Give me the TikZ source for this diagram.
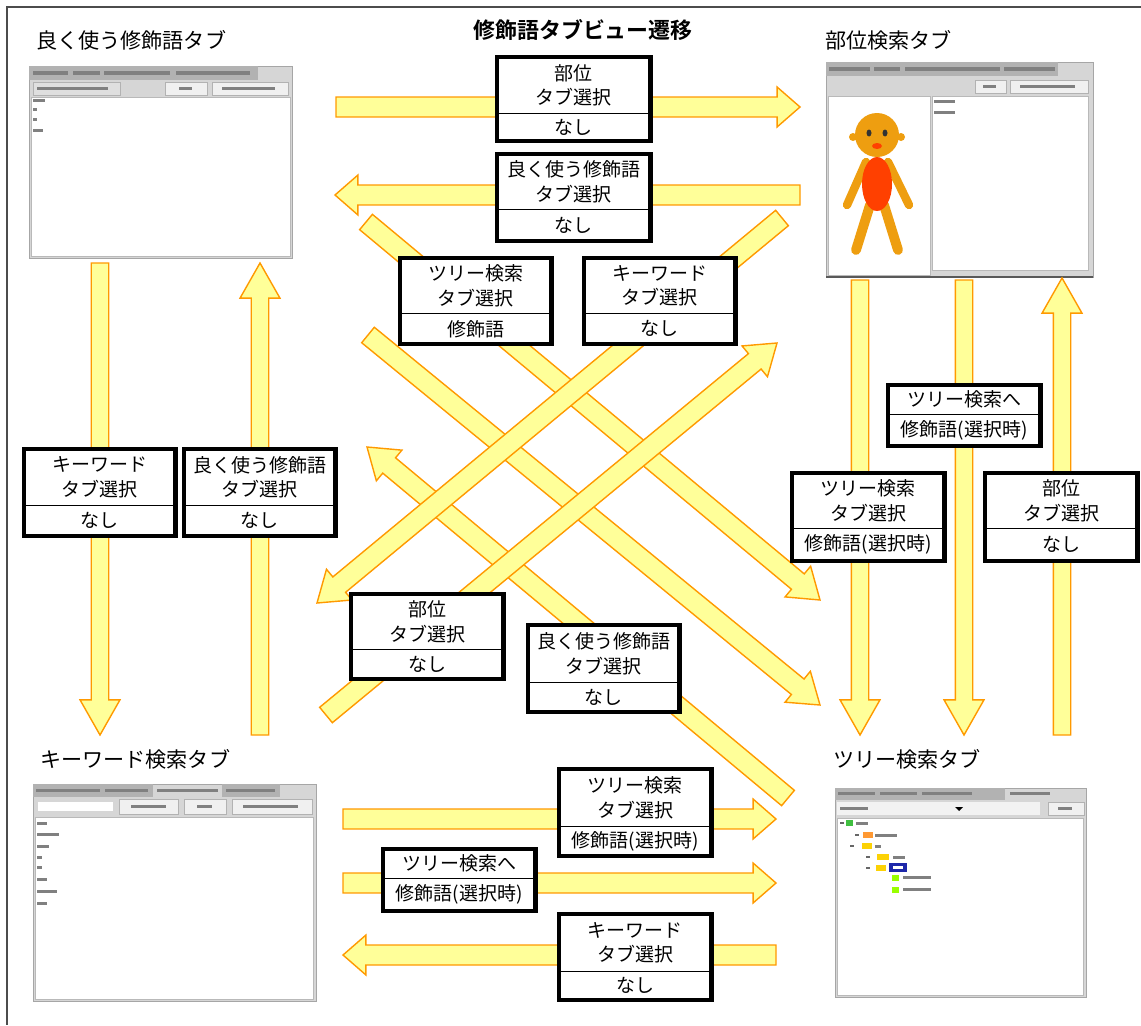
\documentclass[tikz,border=0pt]{standalone}
\usepackage{fontspec}
\newfontfamily\jp[BoldFont={Noto Sans CJK JP Bold}]{Noto Sans CJK JP}
\usetikzlibrary{calc,positioning}

\definecolor{arrowfill}{RGB}{255,255,153}
\definecolor{arrowedge}{RGB}{255,153,0}
\definecolor{wingray}{RGB}{214,214,214}
\definecolor{tabgray}{RGB}{178,178,178}
\definecolor{skin}{RGB}{238,158,16}
\definecolor{suit}{RGB}{255,64,0}
\definecolor{selblue}{RGB}{30,40,170}

\def\px{0.025cm}

\tikzset{
  fatarrow/.style={fill=arrowfill, draw=arrowedge, line width=1pt, line join=miter},
  boxup/.style={fill=white, inner sep=0pt, align=center, font=\jp\fontsize{13.5}{17.7}\selectfont},
  boxlow/.style={boxup},
  boxframe/.style={draw=black, line width=3.2pt},
  boxrule/.style={line width=1pt},
  tabtitle/.style={anchor=west, inner sep=0pt, font=\jp\fontsize{15}{18}\selectfont},
  window/.style={fill=wingray, draw=gray!70, line width=0.6pt},
  pane/.style={fill=white, draw=gray!55, line width=0.4pt},
  button/.style={fill=gray!12, draw=gray!60, line width=0.4pt},
  smudge/.style={fill=black!50},
}

% block arrow: #1 half shaft, #2 head length, #3 tail, #4 tip
\newcommand{\fatarrow}[4]{%
  \coordinate (hb) at ($(#4)!#2!(#3)$);
  \draw[fatarrow] ($(#3)!#1!90:(#4)$) -- ($(hb)!#1!90:(#4)$) -- ($(hb)!14.2pt!90:(#4)$) -- (#4)
    -- ($(hb)!14.2pt!-90:(#4)$) -- ($(hb)!#1!-90:(#4)$) -- ($(#3)!#1!-90:(#4)$) -- cycle;
}

% two part label: #1 name, #2 corner, #3 width, #4/#5 heights, #6 upper, #7 lower
\newcommand{\tabbox}[7]{%
  \node[boxup, minimum width=#3*\px, minimum height=#4*\px, anchor=north west] (#1) at (#2) {#6};
  \node[boxlow, minimum width=#3*\px, minimum height=#5*\px, below=0pt of #1] (#1-b) {#7};
  \draw[boxframe] (#1.north west) rectangle (#1-b.south east);
  \draw[boxrule] (#1.south west) -- (#1.south east);
}

\begin{document}
\begin{tikzpicture}[x=\px, y=-\px]
  \useasboundingbox (0,0) rectangle (1141,1025);
  \draw[gray!60!black, line width=1pt] (1141,7) -- (7,7) -- (7,1025);

  \node[font=\jp\bfseries\fontsize{15.6}{18}\selectfont] (title) at (583,30) {修飾語タブビュー遷移};

  % --- tab titles
  \node[tabtitle] (yoku) at (36,40) {良く使う修飾語タブ};
  \node[tabtitle] (bui) at (825,40) {部位検索タブ};
  \node[tabtitle] (kw) at (40,759) {キーワード検索タブ};
  \node[tabtitle] (tree) at (833,759) {ツリー検索タブ};

  % --- window: frequently used
  \draw[window] (29,66) rectangle (292,258);
  \fill[tabgray] (29,66) rectangle (258,80);
  \foreach \a/\b in {33/68, 73/100, 104/170, 176/250}
    \fill[smudge] (\a,71) rectangle (\b,75);
  \draw[button, fill=gray!25] (33,82) rectangle (120,95);
  \fill[smudge] (37,87) rectangle (108,90);
  \draw[button] (165,82) rectangle (207,95);
  \fill[smudge] (179,87) rectangle (192,90);
  \draw[button] (212,82) rectangle (288,95);
  \fill[smudge] (222,87) rectangle (275,90);
  \draw[pane] (31,97) rectangle (290,256);
  \foreach \y/\l in {99/12, 108/4, 118/4, 129/10}
    \fill[smudge] (33,\y) rectangle (33+\l,\y+3);

  % --- window: body part
  \draw[window] (826,62) rectangle (1093,277);
  \fill[tabgray] (826,62) rectangle (1058,76);
  \foreach \a/\b in {829/870, 874/900, 905/1000, 1004/1055}
    \fill[smudge] (\a,67) rectangle (\b,71);
  \draw[button] (975,80) rectangle (1006,93);
  \fill[smudge] (983,85) rectangle (996,88);
  \draw[button] (1010,80) rectangle (1088,93);
  \fill[smudge] (1020,85) rectangle (1075,88);
  \draw[pane] (828,96) rectangle (930,275);
  \draw[pane] (932,96) rectangle (1088,270);
  \draw[gray!70!black, line width=1.5pt] (826,277) -- (1093,277);
  \foreach \y in {100,111}
    \fill[smudge] (934,\y) rectangle (955,\y+3);
  % figure
  \begin{scope}[line cap=round]
    \draw[skin, line width=6pt] (866,162) -- (847,205);
    \draw[skin, line width=6pt] (888,162) -- (909,205);
    \draw[skin, line width=7pt] (870,205) -- (856,250);
    \draw[skin, line width=7pt] (884,205) -- (898,250);
  \end{scope}
  \fill[suit] (877,184) ellipse [x radius=15, y radius=27];
  \fill[skin] (853,137) circle (4);
  \fill[skin] (901,137) circle (4);
  \fill[skin] (877,135) circle (22);
  \fill[black!80] (869,133) ellipse [x radius=2.5, y radius=3.5];
  \fill[black!80] (885,133) ellipse [x radius=2.5, y radius=3.5];
  \fill[suit] (877,146) ellipse [x radius=5, y radius=3];

  % --- window: keyword
  \draw[window] (33,784) rectangle (316,1001);
  \fill[tabgray] (33,784) rectangle (153,797);
  \fill[tabgray] (222,784) rectangle (280,797);
  \foreach \a/\b in {36/100, 105/148, 157/218, 226/275}
    \fill[smudge] (\a,789) rectangle (\b,792);
  \fill[white] (38,802) rectangle (113,811);
  \draw[button] (119,799) rectangle (178,814);
  \fill[smudge] (131,805) rectangle (166,808);
  \draw[button] (184,799) rectangle (226,814);
  \fill[smudge] (197,805) rectangle (212,808);
  \draw[button] (232,799) rectangle (312,814);
  \fill[smudge] (243,805) rectangle (298,808);
  \draw[pane] (35,817) rectangle (313,999);
  \foreach \y/\l in {822/10, 833/22, 845/12, 856/5, 866/5, 878/10, 890/20, 902/10}
    \fill[smudge] (37,\y) rectangle (37+\l,\y+3);

  % --- window: tree
  \draw[window] (835,788) rectangle (1086,997);
  \fill[tabgray] (835,788) rectangle (1005,800);
  \foreach \a/\b in {838/875, 880/917, 922/972, 1010/1050}
    \fill[smudge] (\a,792) rectangle (\b,795);
  \fill[gray!10] (837,802) rectangle (1040,815);
  \fill[smudge] (840,807) rectangle (868,810);
  \fill[black] (955,807) -- (963,807) -- (959,811) -- cycle;
  \draw[button] (1048,802) rectangle (1084,815);
  \fill[smudge] (1058,807) rectangle (1072,810);
  \draw[pane] (837,818) rectangle (1083,995);
  \foreach \x/\y in {842/823, 857/835, 852/846, 868/857, 868/868}
    \fill[black!60] (\x-2,\y-0.7) rectangle (\x+2,\y+0.7);
  \fill[green!50!gray] (846,820) rectangle (853,826);
  \fill[orange!80] (863,832) rectangle (873,838);
  \fill[yellow!70!orange] (862,843) rectangle (872,849);
  \fill[yellow!70!orange] (877,854) rectangle (889,860);
  \fill[yellow!70!orange] (876,865) rectangle (886,871);
  \fill[selblue] (889,863) rectangle (907,872);
  \fill[white] (893,866) rectangle (903,869);
  \fill[green!40!yellow] (892,875) rectangle (899,881);
  \fill[green!40!yellow] (892,887) rectangle (899,893);
  \foreach \x/\y/\l in {856/822/12, 875/834/22, 875/845/6, 893/856/12, 903/876/28, 903/888/28}
    \fill[smudge] (\x,\y) rectangle (\x+\l,\y+3);

  % --- arrow ends
  \coordinate (ab-s) at (336,107);  \coordinate (ab-e) at (800,107);
  \coordinate (ba-s) at (800,195);  \coordinate (ba-e) at (335,195);
  \coordinate (ac-s) at (100,263);  \coordinate (ac-e) at (100,735);
  \coordinate (ca-s) at (260,735);  \coordinate (ca-e) at (260,263);
  \coordinate (bd1-s) at (860,280); \coordinate (bd1-e) at (860,735);
  \coordinate (bd2-s) at (964,280); \coordinate (bd2-e) at (964,735);
  \coordinate (db-s) at (1062,735); \coordinate (db-e) at (1062,278);
  \coordinate (cd1-s) at (343,819); \coordinate (cd1-e) at (776,819);
  \coordinate (cd2-s) at (343,883); \coordinate (cd2-e) at (776,883);
  \coordinate (dc-s) at (776,955);  \coordinate (dc-e) at (343,955);
  \coordinate (ad1-s) at (366,222); \coordinate (ad1-e) at (820,600);
  \coordinate (ad2-s) at (368,335); \coordinate (ad2-e) at (820,705);
  \coordinate (da-s) at (788,798);  \coordinate (da-e) at (367,447);
  \coordinate (bc-s) at (782,218);  \coordinate (bc-e) at (317,603);
  \coordinate (cb-s) at (326,715);  \coordinate (cb-e) at (777,343);

  % diagonals
  \foreach \a in {ad1, ad2, da, bc, cb}
    \fatarrow{7.1pt}{20.5pt}{\a-s}{\a-e};
  % horizontals
  \foreach \a in {ab, ba, cd1, cd2, dc}
    \fatarrow{7.1pt}{16.3pt}{\a-s}{\a-e};
  % verticals
  \foreach \a in {ac, ca, bd1, bd2, db}
    \fatarrow{6.2pt}{25pt}{\a-s}{\a-e};

  % --- labels on the arrows
  \tabbox{bui1}{497,57}{153}{56}{27}{部位\\タブ選択}{なし}
  \tabbox{yoku1}{497,154}{153}{55}{31}{良く使う修飾語\\タブ選択}{なし}
  \tabbox{tree1}{400,258}{151}{55}{30}{ツリー検索\\タブ選択}{修飾語}
  \tabbox{kw1}{584,258}{151}{55}{30}{キーワード\\タブ選択}{なし}
  \tabbox{kw2}{24,449}{151}{56}{30}{キーワード\\タブ選択}{なし}
  \tabbox{yoku2}{184,449}{151}{56}{30}{良く使う修飾語\\タブ選択}{なし}
  \tabbox{treeto1}{888,385}{152}{29}{31}{ツリー検索へ}{修飾語(選択時)}
  \tabbox{tree2}{792,473}{152}{55}{32}{ツリー検索\\タブ選択}{修飾語(選択時)}
  \tabbox{bui2}{985,473}{152}{55}{32}{部位\\タブ選択}{なし}
  \tabbox{bui3}{351,594}{152}{55}{29}{部位\\タブ選択}{なし}
  \tabbox{yoku3}{528,625}{151}{57}{29}{良く使う修飾語\\タブ選択}{なし}
  \tabbox{tree3}{559,769}{152}{57}{29}{ツリー検索\\タブ選択}{修飾語(選択時)}
  \tabbox{treeto2}{383,849}{152}{29}{32}{ツリー検索へ}{修飾語(選択時)}
  \tabbox{kw3}{559,914}{152}{57}{28}{キーワード\\タブ選択}{なし}
\end{tikzpicture}
\end{document}
